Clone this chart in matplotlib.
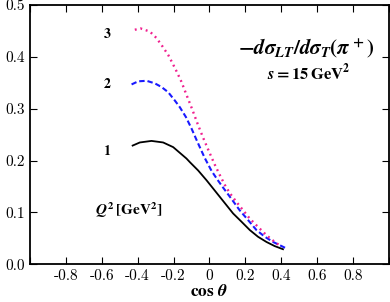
import numpy as np
import matplotlib
matplotlib.use('Agg')
from matplotlib import pyplot as plt
from matplotlib.ticker import FixedLocator, FuncFormatter

plt.rcParams['mathtext.fontset'] = 'cm'
plt.rcParams['font.family'] = 'serif'
plt.rcParams['font.serif'] = ['cmr10', 'DejaVu Serif']
plt.rcParams['axes.unicode_minus'] = False
# bold math set, used only by the annotations
plt.rcParams['mathtext.rm'] = 'STIXGeneral:bold'
plt.rcParams['mathtext.it'] = 'STIXGeneral:italic:bold'
plt.rcParams['mathtext.bf'] = 'STIXGeneral:bold'

# curves: Q^2 = 1, 2, 3 GeV^2
x1 = [-0.428, -0.388, -0.323, -0.258, -0.202, -0.128, -0.109, -0.063, -0.016,
      0.021, 0.058, 0.095, 0.132, 0.179, 0.225, 0.271, 0.318, 0.364, 0.41]
y1 = [0.229, 0.235, 0.238, 0.235, 0.226, 0.204, 0.197, 0.181, 0.162,
      0.146, 0.130, 0.114, 0.098, 0.082, 0.066, 0.053, 0.043, 0.035, 0.029]

x2 = [-0.434, -0.397, -0.350, -0.304, -0.267, -0.230, -0.193, -0.165, -0.131,
      -0.100, -0.063, -0.026, 0.012, 0.045, 0.076, 0.123, 0.169,
      0.216, 0.262, 0.309, 0.355, 0.426]
y2 = [0.347, 0.353, 0.354, 0.349, 0.342, 0.332, 0.316, 0.303, 0.284,
      0.262, 0.233, 0.205, 0.180, 0.163, 0.148, 0.126, 0.104,
      0.085, 0.066, 0.053, 0.043, 0.031]

x3 = [-0.416, -0.384, -0.332, -0.295, -0.261, -0.230, -0.206, -0.180, -0.156,
      -0.128, -0.096, -0.066, -0.035, -0.003, 0.030, 0.058, 0.086, 0.114,
      0.151, 0.188, 0.225, 0.271, 0.318, 0.364, 0.402]
y3 = [0.4525, 0.455, 0.449, 0.4365, 0.420, 0.404, 0.388, 0.370, 0.352,
      0.327, 0.299, 0.271, 0.244, 0.218, 0.192, 0.172, 0.153, 0.137,
      0.120, 0.104, 0.088, 0.072, 0.056, 0.043, 0.034]

xticks = [-1.0, -0.8, -0.6, -0.4, -0.2, 0.0, 0.2, 0.4, 0.6, 0.8, 1.0]
yticks = [0.0, 0.1, 0.2, 0.3, 0.4, 0.5]
curve_labels = ['1', '2', '3']


def fmt_x(v, pos):
    if abs(v) > 0.95:
        return ''
    if abs(v) < 1e-9:
        return '0'
    return '%.1f' % v


fig = plt.figure(figsize=(3.9, 3.02), dpi=100)
ax = fig.add_axes([0.077, 0.125, 0.92, 0.858])

ax.plot(x1, y1, color='black', lw=1.3)
ax.plot(x2, y2, color='#1a1aff', lw=1.5, ls=(0, (2.6, 1.4)))
ax.plot(x3, y3, color='#f0208f', lw=1.7, ls=(0, (0.8, 1.6)))

ax.set_xlim(-1, 1)
ax.set_ylim(0, 0.5)
ax.xaxis.set_major_locator(FixedLocator(xticks))
ax.yaxis.set_major_locator(FixedLocator(yticks))
ax.xaxis.set_major_formatter(FuncFormatter(fmt_x))
ax.yaxis.set_major_formatter(FuncFormatter(lambda v, p: '%.1f' % v))
ax.tick_params(direction='in', top=True, right=True, length=5, width=0.8,
               labelsize=11)
for sp in ax.spines.values():
    sp.set_linewidth(1.3)

ax.set_xlabel(r'$\cos\,\theta$', fontsize=12.5, labelpad=0,
              math_fontfamily='custom')

ax.text(0.54, 0.416, r'$-d\sigma_{LT}/d\sigma_T(\pi^+)$',
        fontsize=15, ha='center', va='center', math_fontfamily='custom')
ax.text(0.554, 0.37, r'$s=15\,\mathrm{GeV}^2$',
        fontsize=12, ha='center', va='center', math_fontfamily='custom')
for lab, yy in zip(curve_labels, [0.218, 0.347, 0.445]):
    ax.text(-0.57, yy, '$%s$' % lab, fontsize=10, ha='center', va='center',
            math_fontfamily='custom')
ax.text(-0.448, 0.104, r'$Q^2\,[\mathrm{GeV}^2]$',
        fontsize=11, ha='center', va='center', math_fontfamily='custom')

fig.savefig('out.png', dpi=100)
